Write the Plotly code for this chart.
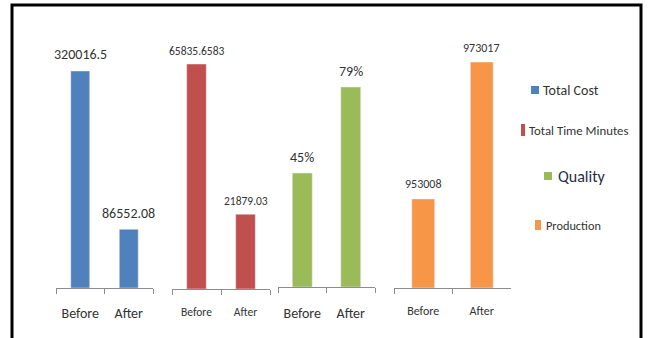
import plotly.graph_objects as go

W, H = 648, 338

# Before / After comparison for four improvement measures
categories = ["Before", "After"]
total_cost = [320016.5, 86552.08]
total_time_minutes = [65835.6583, 21879.03]
quality = [0.45, 0.79]
production = [953008, 973017]

series_names = ["Total Cost", "Total Time Minutes", "Quality", "Production"]
colors = ["#4F81BD", "#C0504D", "#9BBB59", "#F79646"]

FONT = "Carlito, Calibri, Lato, sans-serif"
TXT = "#333333"


def px_x(p):
    return p / W


def px_y(p):
    return 1 - p / H


# panel layout: x extent and axis/top pixel rows, axis minimum, bar width,
# tick label size, value label size, value label offset
panels = [
    dict(data=total_cost, x0=56, x1=153, yb=288, yt=71, ymin=0, bw=0.39,
         ts=14, vs=14, off=16, std=12, fmt=lambda v: str(v)),
    dict(data=total_time_minutes, x0=172, x1=270, yb=289, yt=64, ymin=0, bw=0.40,
         ts=11.5, vs=11.5, off=13, std=12, fmt=lambda v: str(v)),
    dict(data=quality, x0=278, x1=375, yb=287, yt=87, ymin=0, bw=0.41,
         ts=14, vs=14, off=15.5, std=13, fmt=lambda v: f"{v:.0%}"),
    dict(data=production, x0=394, x1=511, yb=288, yt=62, ymin=940000, bw=0.39,
         ts=12, vs=12, off=14.5, std=12, fmt=lambda v: str(v)),
]

fig = go.Figure()
annotations = []
layout_axes = {}

for i, (p, name, col) in enumerate(zip(panels, series_names, colors), start=1):
    xa = "x" if i == 1 else f"x{i}"
    ya = "y" if i == 1 else f"y{i}"
    # bars rise from the axis minimum
    fig.add_trace(go.Bar(
        x=categories, y=[v - p["ymin"] for v in p["data"]], base=p["ymin"],
        name=name, marker_color=col, width=p["bw"],
        xaxis=xa, yaxis=ya, showlegend=False,
    ))
    layout_axes[f"xaxis{'' if i == 1 else i}"] = dict(
        domain=[px_x(p["x0"]), px_x(p["x1"])], anchor=ya,
        type="category", range=[-0.5, 1.5], tickson="boundaries",
        ticks="outside", ticklen=5, tickcolor="#8C8C8C", tickwidth=1,
        showline=True, linecolor="#8C8C8C", linewidth=1, showgrid=False,
        tickfont=dict(family=FONT, size=p["ts"], color=TXT),
        ticklabelstandoff=p["std"], fixedrange=True,
    )
    top_val = max(p["data"])
    layout_axes[f"yaxis{'' if i == 1 else i}"] = dict(
        domain=[px_y(p["yb"]), px_y(p["yt"])], anchor=xa,
        range=[p["ymin"], top_val], visible=False, fixedrange=True,
    )
    for c, v in zip(categories, p["data"]):
        annotations.append(dict(
            x=c, y=v, xref=xa, yref=ya, text=p["fmt"](v), showarrow=False,
            yanchor="middle", yshift=p["off"],
            font=dict(family=FONT, size=p["vs"], color=TXT),
        ))

# legend entries placed beside the panels
legend_items = [
    # name, marker box (x0, x1, y0, y1), text x, text y, size, color
    ("Total Cost", (531, 539, 86, 94), 541, 90, 14, TXT),
    ("Total Time Minutes", (521, 525, 124, 136), 527, 130, 12.8, TXT),
    ("Quality", (544, 552, 172, 180), 556, 176, 16, "#1F2D45"),
    ("Production", (535, 541, 220, 230), 544, 225, 12.3, TXT),
]
shapes = []
for (name, (bx0, bx1, by0, by1), tx, ty, s, tc), col in zip(legend_items, colors):
    shapes.append(dict(type="rect", xref="paper", yref="paper",
                       x0=px_x(bx0), x1=px_x(bx1), y0=px_y(by1), y1=px_y(by0),
                       fillcolor=col, line=dict(width=0)))
    annotations.append(dict(x=px_x(tx), y=px_y(ty), xref="paper", yref="paper",
                            text=name, showarrow=False, xanchor="left",
                            yanchor="middle", font=dict(family=FONT, size=s, color=tc)))

# outer frame
shapes.append(dict(type="rect", xref="paper", yref="paper",
                   x0=px_x(12), x1=px_x(641), y0=-0.05, y1=px_y(5),
                   line=dict(color="#000000", width=3), fillcolor="rgba(0,0,0,0)"))

fig.update_layout(
    width=W, height=H, margin=dict(l=0, r=0, t=0, b=0),
    paper_bgcolor="white", plot_bgcolor="rgba(0,0,0,0)",
    annotations=annotations, shapes=shapes, showlegend=False,
    **layout_axes,
)

fig.write_html("out.html")
